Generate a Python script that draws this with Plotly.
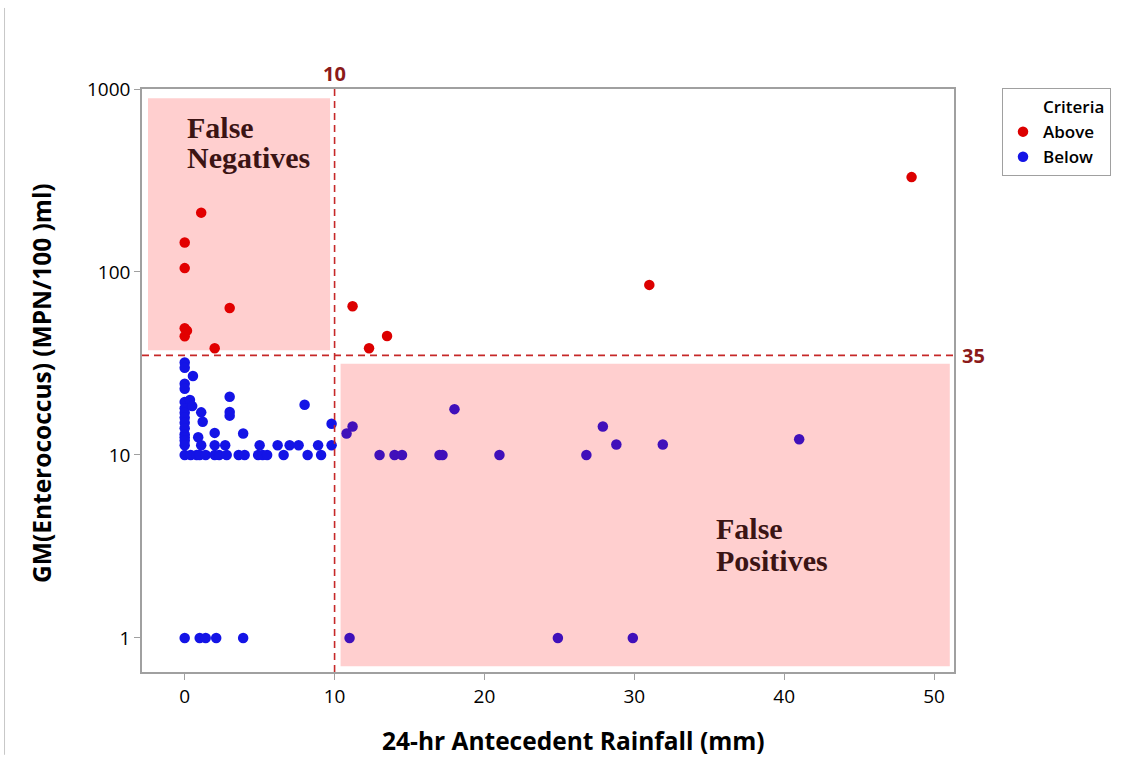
import plotly.graph_objects as go

# Samples exceeding the criteria (GM Enterococcus above threshold)
above_rain = [1.1, 0.0, 0.0, 3.0, 0.0, 0.15, 0.0, 2.0, 11.2, 12.3, 13.5, 31.0, 48.5]
above_gm = [211, 145, 105, 63.5, 49.3, 47.8, 44.5, 38.3, 65, 38.3, 44.7, 85, 330]

# Samples below the criteria
below_rain = (
    [0.0] * 16
    + [0.55, 0.35, 0.5, 1.1, 1.2, 0.9, 1.1, 2.0, 2.0, 2.7, 3.0, 3.0, 3.0, 3.9,
       5.0, 6.2, 7.0, 7.6, 8.9, 9.8, 9.8, 8.0]
    + [0.4, 0.8, 1.0, 1.4, 2.0, 2.3, 2.8, 3.6, 4.0, 4.9, 5.2, 5.5, 6.6, 8.2, 9.1]
    + [1.0, 1.4, 2.1, 3.9]
    + [10.8, 11.2, 18.0, 13.0, 14.0, 14.5, 17.0, 17.2, 21.0, 26.8, 27.9, 28.8,
       31.9, 41.0, 11.0, 24.9, 29.9]
)
below_gm = (
    [32, 30, 24.5, 23, 19.5, 18, 17, 16, 15, 14, 13, 12.5, 12, 11.3, 10, 1]
    + [27, 20, 18.5, 17.1, 15.2, 12.5, 11.3, 13.2, 11.3, 11.3, 20.8, 17.2, 16.4, 13.1,
       11.3, 11.3, 11.3, 11.3, 11.3, 11.3, 14.8, 18.8]
    + [10] * 15
    + [1] * 4
    + [13.1, 14.3, 17.8, 10, 10, 10, 10, 10, 10, 10, 14.3, 11.4,
       11.4, 12.2, 1, 1, 1]
)

rain_threshold = 10
gm_threshold = 35

x_ticks = [0, 10, 20, 30, 40, 50]
y_ticks = [1, 10, 100, 1000]
y_tick_text = ["1", "10", "100", "1000"]

RED = "#DC0000"
BLUE = "#1414E6"
LINE_RED = "#C62828"
LABEL_RED = "#8B1A1A"
TEXT_BROWN = "#3B1414"
SANS = "Open Sans"

fig = go.Figure()

# invisible entry so the legend carries a "Criteria" heading
fig.add_trace(go.Scatter(x=[None], y=[None], mode="markers", name="Criteria",
                         marker=dict(size=10, color="rgba(0,0,0,0)")))
fig.add_trace(go.Scatter(x=above_rain, y=above_gm, mode="markers", name="Above",
                         marker=dict(size=10.5, color=RED)))
fig.add_trace(go.Scatter(x=below_rain, y=below_gm, mode="markers", name="Below",
                         marker=dict(size=10.5, color=BLUE)))

shapes = [
    # false-negative zone
    dict(type="rect", xref="x", yref="y", x0=-2.45, x1=9.7, y0=37.3, y1=890,
         fillcolor="rgb(255,0,0)", opacity=0.19, line=dict(width=0), layer="above"),
    # false-positive zone
    dict(type="rect", xref="x", yref="y", x0=10.4, x1=51.05, y0=0.70, y1=31.5,
         fillcolor="rgb(255,0,0)", opacity=0.19, line=dict(width=0), layer="above"),
    # threshold lines
    dict(type="line", xref="x", yref="paper", x0=rain_threshold, x1=rain_threshold,
         y0=0, y1=1, line=dict(color=LINE_RED, width=1.6, dash="7px,5px"), layer="above"),
    dict(type="line", xref="paper", yref="y", x0=0, x1=1, y0=gm_threshold, y1=gm_threshold,
         line=dict(color=LINE_RED, width=1.6, dash="7px,5px"), layer="above"),
    # thin page border on the left
    dict(type="line", xref="paper", yref="paper", x0=-0.1693, x1=-0.1693, y0=-0.142, y1=1.139,
         line=dict(color="#C8C8C8", width=1)),
]

serif = dict(family="Liberation Serif", size=30, color=TEXT_BROWN, weight="bold")
annotations = [
    dict(x=0.05, y=2.792, xref="x", yref="y", text="False", showarrow=False,
         xanchor="left", yanchor="middle", font=serif),
    dict(x=0.05, y=2.623, xref="x", yref="y", text="Negatives", showarrow=False,
         xanchor="left", yanchor="middle", font=serif),
    dict(x=35.3, y=0.596, xref="x", yref="y", text="False", showarrow=False,
         xanchor="left", yanchor="middle", font=serif),
    dict(x=35.3, y=0.421, xref="x", yref="y", text="Positives", showarrow=False,
         xanchor="left", yanchor="middle", font=serif),
    # threshold labels
    dict(x=rain_threshold, y=1.0, xref="x", yref="paper", text="10", showarrow=False,
         xanchor="center", yanchor="bottom", yshift=0,
         font=dict(family=SANS, size=20, color=LABEL_RED, weight="bold")),
    dict(x=1.0, y=1.544, xref="paper", yref="y", text="35", showarrow=False,
         xanchor="left", yanchor="middle", xshift=6,
         font=dict(family=SANS, size=20, color=LABEL_RED, weight="bold")),
    # axis titles
    dict(x=0.532, y=-0.118, xref="paper", yref="paper",
         text="24-hr Antecedent Rainfall (mm)", showarrow=False,
         xanchor="center", yanchor="middle",
         font=dict(family=SANS, size=24.5, color="black", weight="bold")),
    dict(x=-0.123, y=0.496, xref="paper", yref="paper",
         text="GM(Enterococcus) (MPN/100 )ml)", showarrow=False, textangle=-90,
         xanchor="center", yanchor="middle",
         font=dict(family=SANS, size=24.5, color="black", weight="bold")),
]

fig.update_layout(
    width=1144, height=771,
    margin=dict(l=142, r=190, t=89, b=99),
    paper_bgcolor="white", plot_bgcolor="white",
    shapes=shapes, annotations=annotations,
    legend=dict(
        xref="container", yref="container", x=1002 / 1144, y=1 - 88 / 771,
        xanchor="left", yanchor="top",
        bordercolor="#A0A0A0", borderwidth=1, bgcolor="white",
        font=dict(family=SANS, size=17, color="black", weight=600),
        itemclick=False,
    ),
    xaxis=dict(
        range=[-2.85, 51.33], tickvals=x_ticks, showgrid=False, zeroline=False,
        showline=True, linecolor="#A0A0A0", linewidth=1.5, mirror=True,
        ticks="outside", ticklen=6, tickcolor="#A0A0A0",
        tickfont=dict(family=SANS, size=19, color="black"),
    ),
    yaxis=dict(
        type="log", range=[-0.186, 3.0], tickvals=y_ticks, ticktext=y_tick_text,
        showgrid=False, zeroline=False,
        showline=True, linecolor="#A0A0A0", linewidth=1.5, mirror=True,
        ticks="outside", ticklen=6, tickcolor="#A0A0A0",
        tickfont=dict(family=SANS, size=19, color="black"),
    ),
)

fig.write_html("out.html")
